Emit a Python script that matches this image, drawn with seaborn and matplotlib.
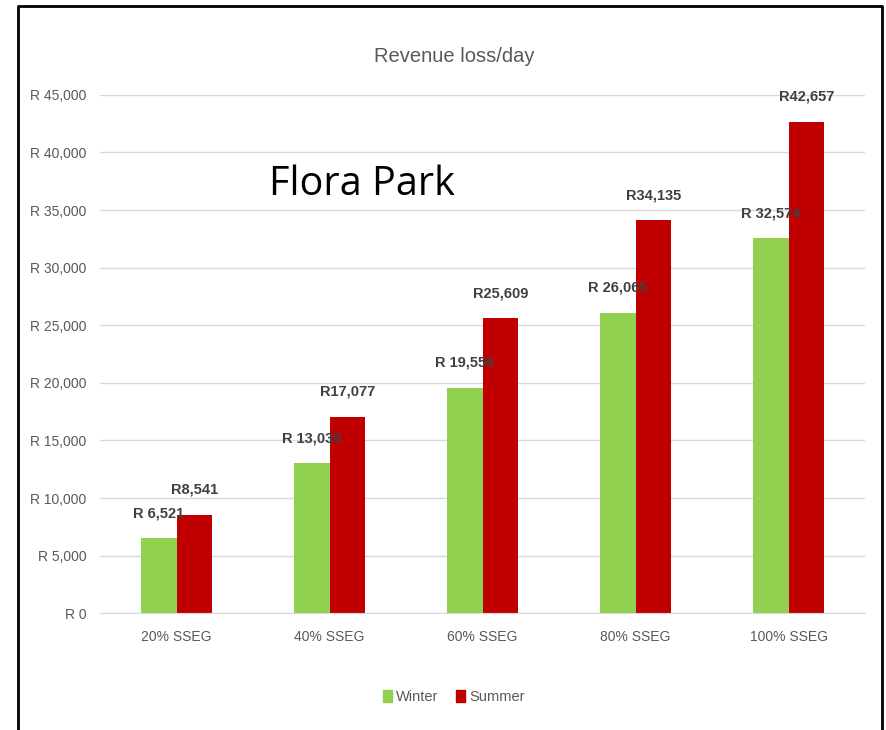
import pandas as pd
import matplotlib.pyplot as plt
import matplotlib.patches as mpatches
import seaborn as sns

# datos
categorias = ['20% SSEG', '40% SSEG', '60% SSEG', '80% SSEG', '100% SSEG']
invierno = [6521, 13039, 19556, 26065, 32574]
verano = [8541, 17077, 25609, 34135, 42657]
ticks_y = [0, 5000, 10000, 15000, 20000, 25000, 30000, 35000, 40000, 45000]

df = pd.DataFrame({
    'cat': categorias * 2,
    'serie': ['Winter'] * 5 + ['Summer'] * 5,
    'valor': invierno + verano,
})

sns.set_style('white')
plt.rcParams['font.family'] = ['Liberation Sans', 'DejaVu Sans']

fig = plt.figure(figsize=(8.86, 7.30), dpi=100)
ax = fig.add_axes([0.1129, 0.160, 0.8634, 0.710])

sns.barplot(data=df, x='cat', y='valor', hue='serie', order=categorias,
            hue_order=['Winter', 'Summer'],
            palette={'Winter': '#92d050', 'Summer': '#c00000'},
            width=0.47, saturation=1, linewidth=0, ax=ax, legend=False)

ax.set_ylim(0, 45000)
ax.set_yticks(ticks_y)
ax.set_yticklabels(['R 0'] + [f'R {v:,}' for v in ticks_y[1:]])
ax.set_xlim(-0.5, 4.5)
ax.yaxis.grid(True, color='#d9d9d9', lw=1)
ax.set_axisbelow(True)
for s in ['top', 'right', 'left']:
    ax.spines[s].set_visible(False)
ax.spines['bottom'].set_color('#d9d9d9')
ax.tick_params(axis='both', length=0, colors='#595959', labelsize=10)
ax.tick_params(axis='x', pad=12)
ax.tick_params(axis='y', pad=10)
ax.set_xlabel('')
ax.set_ylabel('')

# etiquetas de datos
for i, cont in enumerate(ax.containers):
    for bar in cont:
        v = bar.get_height()
        txt = f'R {v:,.0f}' if i == 0 else f'R{v:,.0f}'
        ax.annotate(txt, (bar.get_x() + bar.get_width() / 2, v),
                    xytext=(0, 18), textcoords='offset points',
                    ha='center', va='center', fontsize=10.5,
                    fontweight='bold', color='#404040')

fig.text(0.513, 0.922, 'Revenue loss/day', ha='center', va='center',
         fontsize=14.5, color='#595959')
fig.text(0.409, 0.747, 'Flora Park', ha='center', va='center',
         fontsize=28.5, color='black', family=['Open Sans', 'DejaVu Sans'])

handles = [mpatches.Patch(color='#92d050', label='Winter'),
           mpatches.Patch(color='#c00000', label='Summer')]
fig.legend(handles=handles, loc='center', bbox_to_anchor=(0.512, 0.045),
           ncol=2, frameon=False, fontsize=10.5, labelcolor='#595959',
           handlelength=0.6, handleheight=0.9, handletextpad=0.3,
           columnspacing=1.2)

# marco negro
fig.add_artist(plt.Line2D([0.020, 0.020, 0.995, 0.995], [0.0, 0.992, 0.992, 0.0],
                          color='black', lw=2, transform=fig.transFigure))

fig.savefig('out.png', dpi=100)
plt.close()
